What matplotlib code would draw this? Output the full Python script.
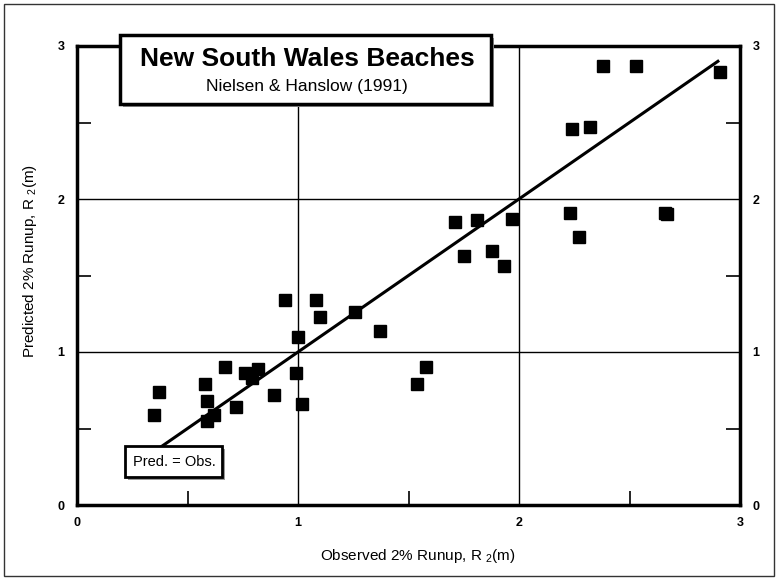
import matplotlib.pyplot as plt
from matplotlib.patches import Rectangle
from matplotlib.ticker import MultipleLocator

plt.rcParams['font.family'] = ['Liberation Sans', 'DejaVu Sans']
plt.rcParams['mathtext.fontset'] = 'custom'
plt.rcParams['mathtext.rm'] = 'Liberation Sans'

# observed vs predicted 2% runup (m)
observed = [0.94, 1.08, 1.10, 1.26, 1.37, 1.00, 0.67, 0.76, 0.82, 0.79,
            0.99, 0.58, 0.37, 0.59, 0.72, 0.89, 1.02, 0.35, 0.59, 0.62,
            1.54, 1.58, 2.38, 2.53, 2.91, 2.24, 2.32, 2.23, 2.27, 2.66,
            2.67, 1.71, 1.81, 1.97, 1.75, 1.88, 1.93]
predicted = [1.34, 1.34, 1.23, 1.26, 1.14, 1.10, 0.90, 0.86, 0.89, 0.83,
             0.86, 0.79, 0.74, 0.68, 0.64, 0.72, 0.66, 0.59, 0.55, 0.59,
             0.79, 0.90, 2.87, 2.87, 2.83, 2.46, 2.47, 1.91, 1.75, 1.91,
             1.90, 1.85, 1.86, 1.87, 1.63, 1.66, 1.56]

# extent of the Pred. = Obs. line
line_range = [0.37, 2.9]

fig = plt.figure(figsize=(7.78, 5.80), dpi=100)
ax = fig.add_axes([77/778, 1 - 505/580, (740-77)/778, (505-46)/580])

ax.plot(line_range, line_range, color='black', lw=2.2, zorder=3)
ax.plot(observed, predicted, 's', color='black', ms=9, zorder=4)

ax.set_xlim(0, 3)
ax.set_ylim(0, 3)
ax.xaxis.set_major_locator(MultipleLocator(1))
ax.yaxis.set_major_locator(MultipleLocator(1))
ax.xaxis.set_minor_locator(MultipleLocator(0.5))
ax.yaxis.set_minor_locator(MultipleLocator(0.5))
ax.grid(True, which='major', color='black', lw=1.0)

ax.tick_params(which='major', length=0, labelsize=9, pad=9)
ax.tick_params(which='minor', direction='in', length=10, width=1.2)
ax.tick_params(axis='y', which='both', left=True, right=True,
               labelleft=True, labelright=True)
ax.tick_params(axis='x', which='both', bottom=True, top=False)
for t in ax.xaxis.get_major_ticks() + ax.yaxis.get_major_ticks():
    t.label1.set_fontweight('bold')
    t.label2.set_fontweight('bold')
for sp in ax.spines.values():
    sp.set_linewidth(2.5)

ax.set_xlabel('Observed 2% Runup, R $_{2}$(m)', fontsize=11)
ax.set_ylabel('Predicted 2% Runup, R $_{2}$(m)', fontsize=11)
ax.xaxis.set_label_coords(0.514, -0.092)
ax.yaxis.set_label_coords(-0.058, 0.532)


def boxed(x0, y0, x1, y1, lw):
    # pixel coords measured from top-left
    w, h = (x1 - x0) / 778, (y1 - y0) / 580
    fx, fy = x0 / 778, 1 - y1 / 580
    fig.patches.append(Rectangle((fx + 3/778, fy - 3/580), w, h,
                                 transform=fig.transFigure,
                                 facecolor='#9a9a9a', edgecolor='none', zorder=5))
    fig.patches.append(Rectangle((fx, fy), w, h, transform=fig.transFigure,
                                 facecolor='white', edgecolor='black', lw=lw, zorder=6))


boxed(120, 35, 491, 104, 2.5)
fig.text(307/778, 1 - 59/580, 'New South Wales Beaches', fontsize=19,
         fontweight='bold', ha='center', va='center', zorder=7)
fig.text(307/778, 1 - 87/580, 'Nielsen & Hanslow (1991)', fontsize=12.5,
         ha='center', va='center', zorder=7)

boxed(125, 446, 222, 477, 2.0)
fig.text(174/778, 1 - 461.5/580, 'Pred. = Obs.', fontsize=10.5,
         ha='center', va='center', zorder=7)

# outer frame of the page
fig.patches.append(Rectangle((4/778, 4/580), 770/778, 572/580,
                             transform=fig.transFigure, facecolor='none',
                             edgecolor='#333333', lw=1.0, zorder=1))

fig.savefig('out.png', dpi=100)
